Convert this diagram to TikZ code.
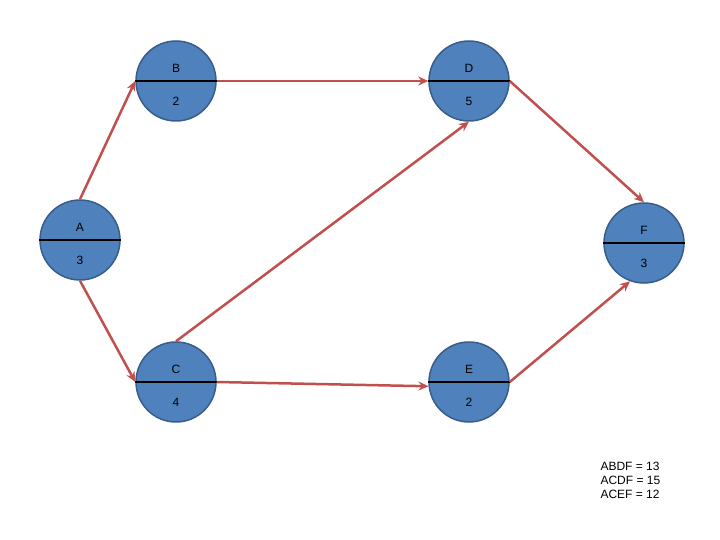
\documentclass[tikz,border=0pt]{standalone}
\usepackage{fontspec}
\setmainfont{Liberation Sans}
\usetikzlibrary{arrows.meta}
\definecolor{nfill}{HTML}{4F81BD}
\definecolor{nborder}{HTML}{385D8A}
\definecolor{arr}{HTML}{C0504D}
\begin{document}
\begin{tikzpicture}[x=1pt,y=-1pt,
  ev/.style={circle,fill=nfill,draw=nborder,line width=1.5pt,minimum size=80pt,inner sep=0pt},
  con/.style={draw=arr,line width=2.5pt,-{Stealth[length=10pt,width=9pt]}},
  lbl/.style={font=\fontsize{12}{14}\selectfont}]
\useasboundingbox (0,0) rectangle (720,540);
\foreach \n/\x/\y/\t/\b in {A/80/240/A/3, B/176/81/B/2, D/469/81/D/5, F/644/243/F/3, C/176/382/C/4, E/469/382/E/2}{
  \node[ev] (\n) at (\x,\y) {};
  \draw[line width=2.5pt] (\n.west) -- (\n.east);
  \node[lbl] (\n t) at (\x,\y-13) {\t};
  \node[lbl] (\n b) at (\x,\y+20) {\b};
}
\draw[con] (A.north) -- (B.west);
\draw[con] (A.south) -- (C.west);
\draw[con] (B.east) -- (D.west);
\draw[con] (D.east) -- (F.north);
\draw[con] (C.north) -- (D.south);
\draw[con] (C.east) -- (E.186);
\draw[con] (E.east) -- (F.250);
\node[lbl,anchor=north west,align=left] (sum) at (597,459) {ABDF = 13\\ACDF = 15\\ACEF = 12};
\end{tikzpicture}
\end{document}
